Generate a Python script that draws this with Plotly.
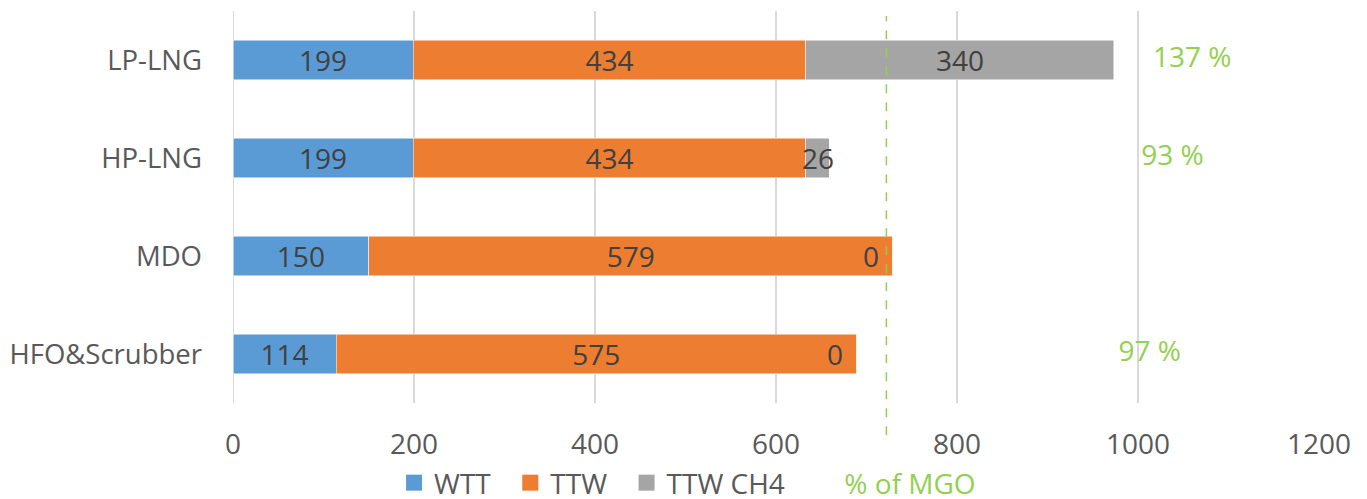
import plotly.graph_objects as go

categories = ["LP-LNG", "HP-LNG", "MDO", "HFO&Scrubber"]
wtt = [199, 199, 150, 114]
ttw = [434, 434, 579, 575]
ttw_ch4 = [340, 26, 0, 0]
pct_labels = ["137 %", "93 %", "", "97 %"]
pct_x = [1060, 1038, None, 1013]
mgo_ref = 722

FONT = "Open Sans"
FS = 28
LABEL_COLOR = "#404040"
AXIS_COLOR = "#595959"
GREEN = "#92D050"
SERIES = [("WTT", wtt, "#5B9BD5"), ("TTW", ttw, "#ED7D31"), ("TTW CH4", ttw_ch4, "#A5A5A5")]

fig = go.Figure()
for name, vals, color in SERIES:
    labelled = name != "TTW CH4"
    fig.add_trace(go.Bar(
        y=categories, x=vals, orientation="h", name=name, showlegend=False,
        marker=dict(color=color, line=dict(color="white", width=0.5)),
        text=[str(v) for v in vals] if labelled else None,
        textposition="inside" if labelled else "none", insidetextanchor="middle",
        textangle=0, constraintext="none", cliponaxis=False,
        textfont=dict(family=FONT, size=FS, color=LABEL_COLOR),
        hoverinfo="x+y",
    ))
# percentage labels
fig.add_trace(go.Scatter(
    y=categories, x=pct_x, mode="text", text=pct_labels,
    textfont=dict(family=FONT, size=FS, color=GREEN),
    showlegend=False, hoverinfo="skip",
))
# legend entries
for name, vals, color in SERIES:
    fig.add_trace(go.Scatter(
        y=[None], x=[None], mode="markers", name=name + "\u00a0\u00a0",
        marker=dict(symbol="square", size=16, color=color),
    ))
fig.add_trace(go.Scatter(
    y=[None], x=[None], mode="lines", line=dict(color="rgba(0,0,0,0)", width=0),
    name=f"<span style='color:{GREEN}'>% of MGO</span>",
))

annotations = []
for c, a, b, v in zip(categories, wtt, ttw, ttw_ch4):
    if v > 0:
        annotations.append(dict(x=a + b + v / 2, y=c, xref="x", yref="y", text=str(v),
                                showarrow=False, xanchor="center",
                                font=dict(family=FONT, size=FS, color=LABEL_COLOR)))
    else:
        annotations.append(dict(x=a + b + v, y=c, xref="x", yref="y", text=str(v),
                                showarrow=False, xanchor="right", xshift=-12,
                                font=dict(family=FONT, size=FS, color=LABEL_COLOR)))

fig.update_layout(
    barmode="stack",
    bargap=0.6,
    width=1367, height=499,
    margin=dict(l=225, r=56, t=3, b=104, autoexpand=False),
    plot_bgcolor="white", paper_bgcolor="white",
    font=dict(family=FONT, size=FS, color=AXIS_COLOR),
    annotations=annotations,
    shapes=[dict(type="line", xref="x", yref="paper", x0=mgo_ref, x1=mgo_ref,
                 y0=-0.082, y1=0.987, line=dict(color=GREEN, width=1.5, dash="dash"))],
    legend=dict(orientation="h", x=0.1483, xanchor="left", y=-0.204, yanchor="middle",
                font=dict(family=FONT, size=FS, color=AXIS_COLOR), traceorder="normal",
                itemwidth=30),
    xaxis=dict(range=[0, 1200], dtick=200, showgrid=True, gridcolor="#D9D9D9", gridwidth=2,
               zeroline=False, showline=False, ticks="", ticklabelstandoff=22,
               tickfont=dict(family=FONT, size=FS, color=AXIS_COLOR), fixedrange=True),
    yaxis=dict(categoryorder="array", categoryarray=categories, autorange="reversed",
               showgrid=False, zeroline=False, showline=False, ticks="",
               ticklabelstandoff=30,
               tickfont=dict(family=FONT, size=27.5, color=AXIS_COLOR), fixedrange=True),
    showlegend=True,
)
fig.add_shape(type="line", xref="x", yref="paper", x0=0, x1=0, y0=0, y1=1,
              line=dict(color="#D9D9D9", width=2), layer="below")

fig.write_html("out.html")
